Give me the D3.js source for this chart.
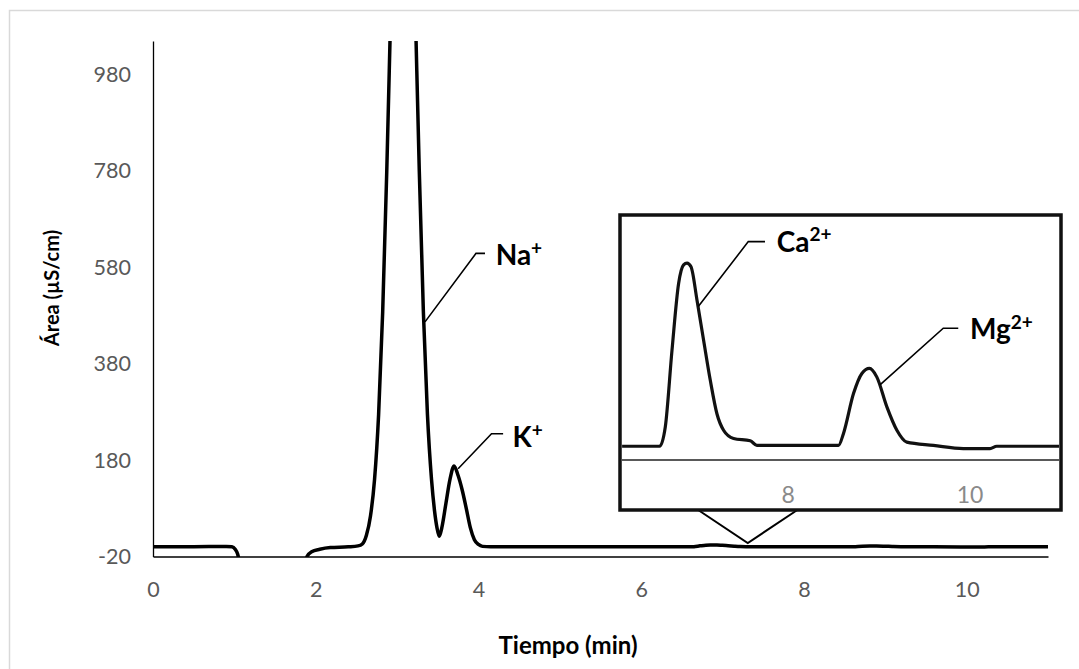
<!DOCTYPE html>
<html>
<head>
<meta charset="utf-8">
<script src="https://cdn.jsdelivr.net/npm/d3@7"></script>
<style>
  body { margin: 0; background: #fff; }
  svg { display: block; font-family: Lato, "Open Sans", sans-serif; }
</style>
</head>
<body>
<div id="chart-container"></div>
<script>
// chromatogram: time in min, signal in µS/cm
const time = [0, 0.5, 0.9, 0.97, 1.01, 1.04, 1.06, 1.1, 1.85, 1.893, 1.95, 2.05, 2.18, 2.4, 2.52,
  2.573, 2.623, 2.673, 2.723, 2.773, 2.823, 2.873, 2.923, 2.973, 3.023, 3.073,
  3.123, 3.173, 3.223, 3.273, 3.323, 3.373, 3.423, 3.46, 3.49, 3.518,
  3.55, 3.60, 3.65, 3.70, 3.75, 3.80, 3.85, 3.90, 3.95, 4.0, 4.05, 4.15, 5.0,
  6.173, 6.586, 6.648, 6.722, 6.795, 6.849, 6.887, 6.931, 6.997, 7.069, 7.143, 7.216, 7.289,
  7.399, 7.582, 7.656, 8.553, 8.608, 8.718, 8.81, 8.893, 8.975, 9.085, 9.195, 9.304,
  9.597, 9.926, 10.22, 10.293, 11.0];
const signal = [0, 0.4, 0.6, 0, -5, -15, -30, -80, -80, -20, -10, -5, -1.5, 0, 2,
  6, 24, 64, 140, 275, 488, 779, 1121, 1454, 1699, 1790,
  1699, 1454, 1121, 779, 488, 275, 140, 75, 40, 22,
  40, 90, 140, 168, 148, 118, 80, 40, 15, 5, 1, 0, 0,
  0, 0, 0.42, 2.1, 3.56, 3.96, 4.0, 3.92, 3.19, 2.32, 1.44, 0.71, 0.35,
  0.17, 0.12, 0.02, 0.02, 0.28, 1.15, 1.59, 1.70, 1.51, 0.86, 0.35, 0.09,
  0.02, -0.05, -0.05, 0, 0];

const xTicks = [0, 2, 4, 6, 8, 10];
const yTicks = [-20, 180, 380, 580, 780, 980];
const insetTicks = [8, 10];

// peak labels: anchor on the curve (main or inset units)
const peakNames = ["Na", "K", "Ca", "Mg"];
const peakCharge = ["+", "+", "2+", "2+"];
const peakAnchor = [[3.343, 467], [3.75, 162], [7.011, 3.05], [9.009, 1.34]];
const peakInInset = [false, false, true, true];

const data = time.map((t, i) => ({ t: t, v: signal[i] }));

const W = 1079, H = 669;
const svg = d3.select("#chart-container").append("svg")
  .attr("width", W).attr("height", H);

// chart area border
svg.append("rect")
  .attr("x", 9.5).attr("y", 10.5).attr("width", 1100).attr("height", 700)
  .attr("fill", "#fff").attr("stroke", "#d9d9d9").attr("stroke-width", 1.5);

const x = d3.scaleLinear().domain([0, 11]).range([153, 1048]);
const y = d3.scaleLinear().domain([-20, 1050]).range([556.5, 41]);

svg.append("clipPath").attr("id", "plot-clip")
  .append("rect").attr("x", 150).attr("y", 41).attr("width", 900).attr("height", 516);

const line = d3.line().x(d => x(d.t)).y(d => y(d.v)).curve(d3.curveMonotoneX);

svg.append("path")
  .datum(data)
  .attr("clip-path", "url(#plot-clip)")
  .attr("d", line)
  .attr("fill", "none").attr("stroke", "#000").attr("stroke-width", 3.5)
  .attr("stroke-linejoin", "round");

// axes (plain hyphen for negative labels, as in the original)
svg.append("g")
  .attr("transform", `translate(0,${y(-20)})`)
  .call(d3.axisBottom(x).tickValues(xTicks).tickSize(0).tickPadding(25).tickFormat(d => String(d)))
  .call(g => g.select(".domain").attr("stroke", "#000").attr("stroke-width", 1.3))
  .call(g => g.selectAll("text").attr("font-size", 21.5).attr("fill", "#595959")
    .attr("font-family", "Lato, 'Open Sans', sans-serif"));

svg.append("g")
  .attr("transform", `translate(${x(0)},0)`)
  .call(d3.axisLeft(y).tickValues(yTicks).tickSize(0).tickPadding(22).tickFormat(d => String(d)))
  .call(g => g.select(".domain").attr("stroke", "#000").attr("stroke-width", 1.3))
  .call(g => g.selectAll("text").attr("font-size", 21.5).attr("fill", "#595959")
    .attr("font-family", "Lato, 'Open Sans', sans-serif"));

svg.append("text")
  .attr("x", 568).attr("y", 654)
  .attr("text-anchor", "middle")
  .attr("font-size", 24).attr("font-weight", "bold").attr("fill", "#000")
  .text("Tiempo (min)");

svg.append("text")
  .attr("transform", "translate(59,288) rotate(-90)")
  .attr("text-anchor", "middle")
  .attr("font-size", 20).attr("font-weight", "bold").attr("fill", "#000")
  .text("Área (µS/cm)");

// inset (zoom of the 6-11 min region)
const ix = d3.scaleLinear().domain([6.15, 11]).range([620, 1061]);
const iy = d3.scaleLinear().domain([-0.3, 5.05]).range([460, 215]);

// callout from the main baseline to the inset
const tip = [x(7.31), y(8)];
svg.append("path")
  .attr("d", `M${ix(7.01)},510 L${tip[0]},${tip[1]} L${ix(8.1)},510`)
  .attr("fill", "none").attr("stroke", "#000").attr("stroke-width", 2);

svg.append("rect")
  .attr("x", 620).attr("y", 215).attr("width", 441).attr("height", 295)
  .attr("fill", "#fff").attr("stroke", "#111").attr("stroke-width", 3.5);

svg.append("clipPath").attr("id", "inset-clip")
  .append("rect").attr("x", 622).attr("y", 217).attr("width", 437).attr("height", 291);

const inset = svg.append("g").attr("clip-path", "url(#inset-clip)");

inset.append("line")
  .attr("x1", 620).attr("x2", 1061).attr("y1", iy(-0.3)).attr("y2", iy(-0.3))
  .attr("stroke", "#222").attr("stroke-width", 1.6);

const insetLine = d3.line().x(d => ix(d.t)).y(d => iy(d.v)).curve(d3.curveMonotoneX);
inset.append("path")
  .datum(data.filter(d => d.t >= 6))
  .attr("d", insetLine)
  .attr("fill", "none").attr("stroke", "#111").attr("stroke-width", 3.2)
  .attr("stroke-linejoin", "round");

inset.selectAll(".itick")
  .data(insetTicks)
  .enter()
  .append("text")
  .attr("class", "itick")
  .attr("x", d => ix(d)).attr("y", 503)
  .attr("text-anchor", "middle")
  .attr("font-size", 23).attr("fill", "#8a8a8a")
  .text(d => d);

// peak labels with leader lines
const leaderOffset = [[51, -68.5], [33.4, -35], [50, -65], [63.3, -56.7]];
const shelf = [9, 11.6, 16.7, 15];
const textOffset = [[19.7, 12], [21, 13.4], [28.4, 10], [26.7, 11]];
const labelSize = [28, 28, 28, 28];

peakNames.forEach((name, i) => {
  const a = peakAnchor[i];
  const ax = peakInInset[i] ? ix(a[0]) : x(a[0]);
  const ay = peakInInset[i] ? iy(a[1]) : y(a[1]);
  const ex = ax + leaderOffset[i][0], ey = ay + leaderOffset[i][1];
  svg.append("path")
    .attr("d", `M${ax},${ay} L${ex},${ey} L${ex + shelf[i]},${ey}`)
    .attr("fill", "none").attr("stroke", "#000").attr("stroke-width", 1.6);
  const t = svg.append("text")
    .attr("x", ex + textOffset[i][0]).attr("y", ey + textOffset[i][1])
    .attr("font-size", labelSize[i]).attr("font-weight", "bold").attr("fill", "#000")
    .text(name);
  t.append("tspan")
    .attr("dy", "-0.55em").attr("font-size", "0.68em")
    .text(peakCharge[i]);
});
</script>
</body>
</html>
